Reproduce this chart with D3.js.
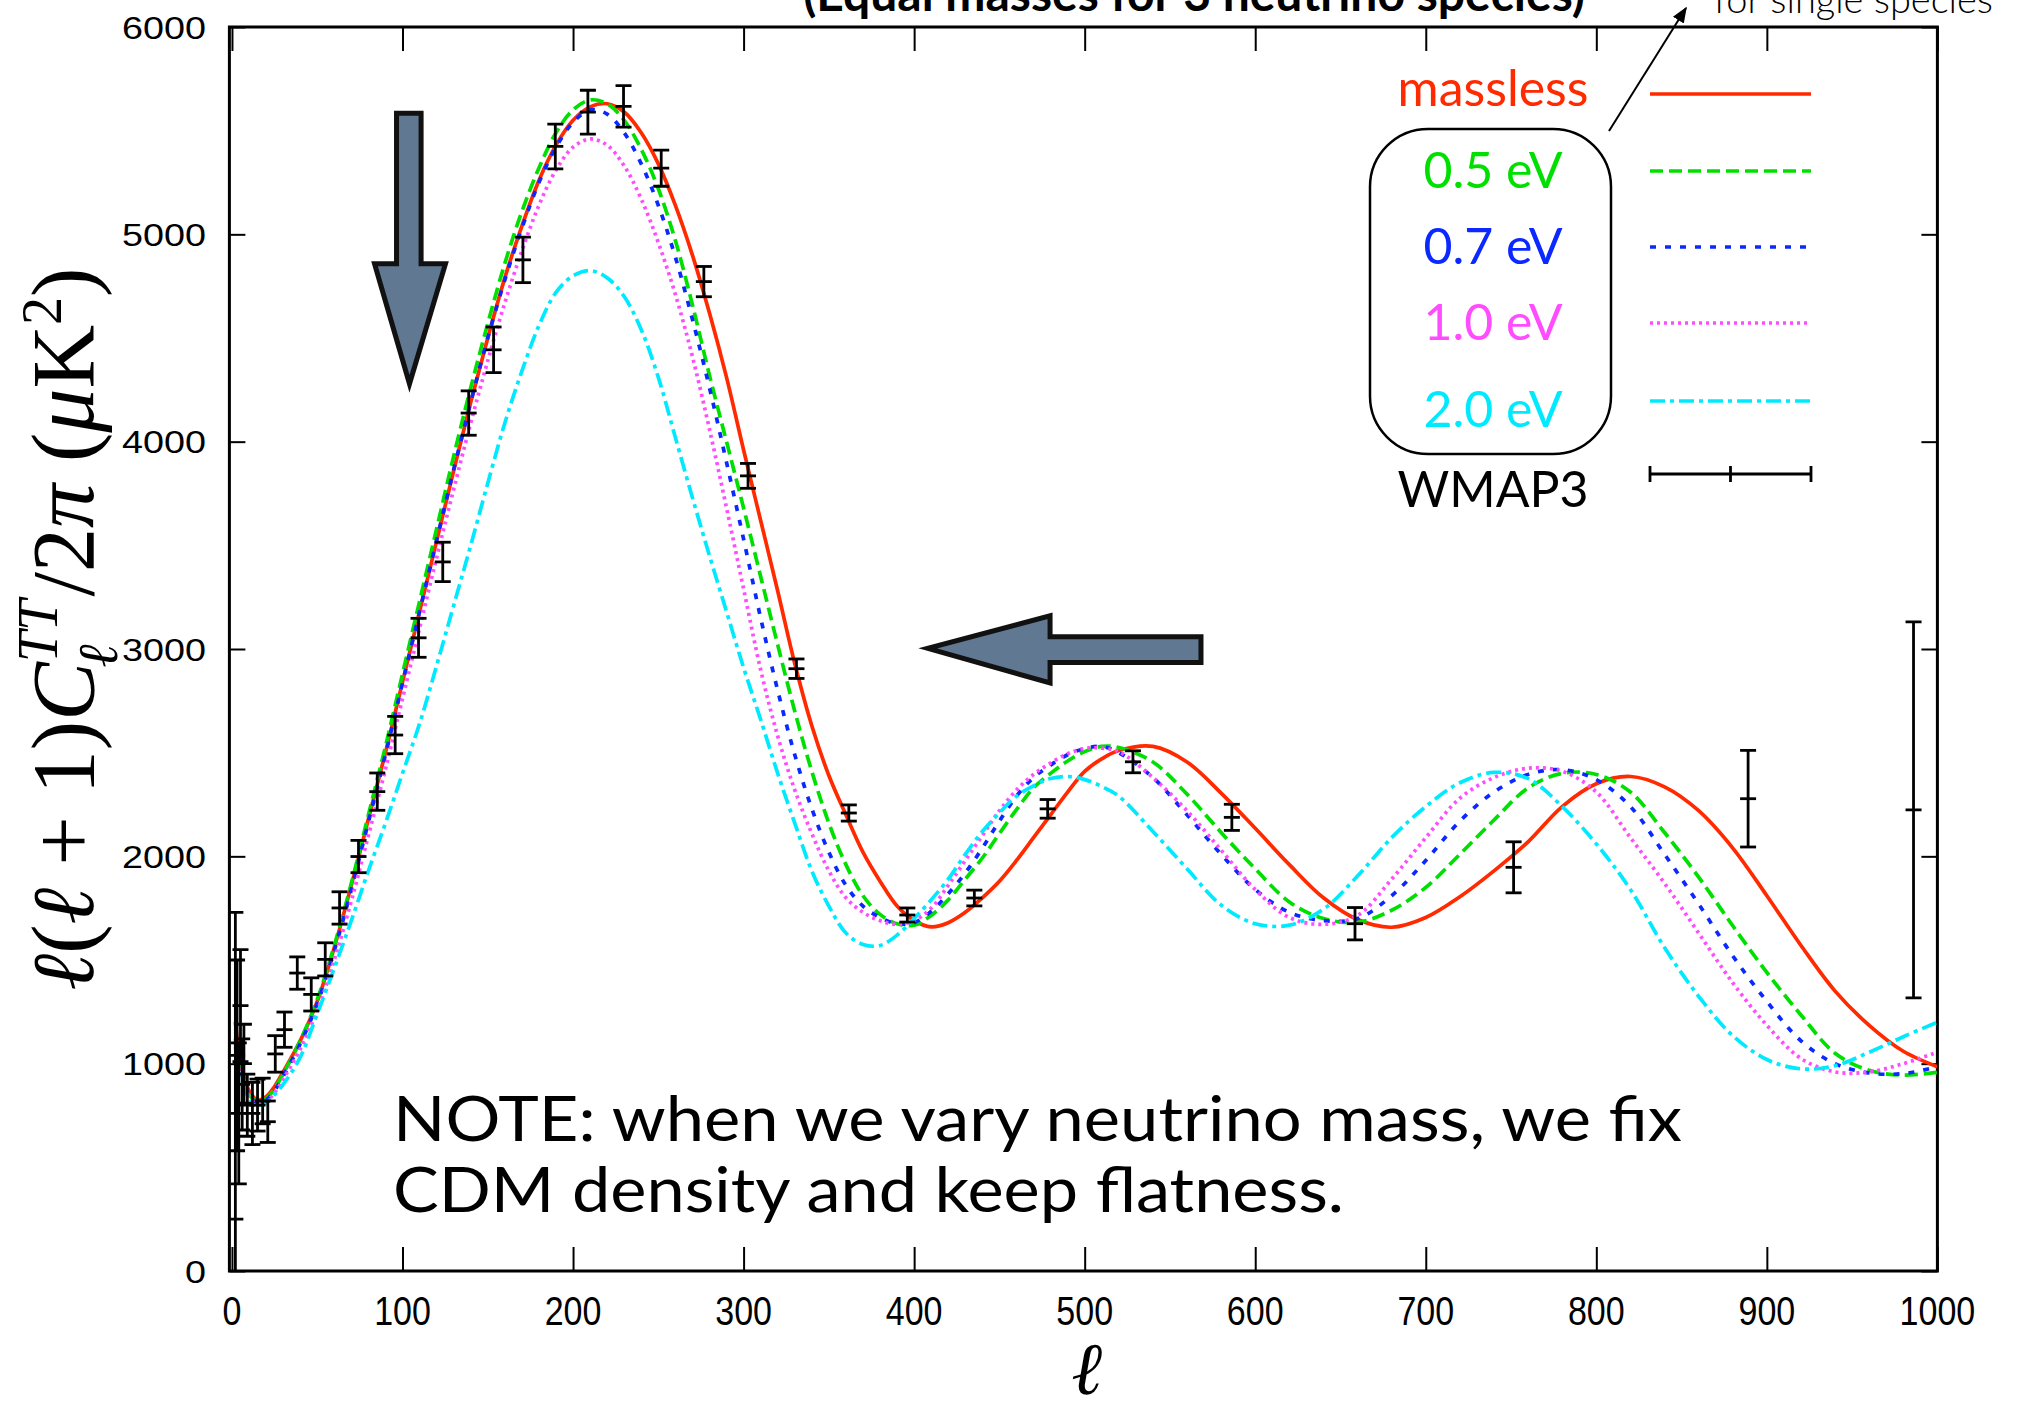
<!DOCTYPE html>
<html>
<head>
<meta charset="utf-8">
<title>neutrino mass TT</title>
<style>
  body{margin:0;background:#fff;}
  svg{display:block;}
</style>
</head>
<body>
<script src="https://cdn.jsdelivr.net/npm/d3@7"></script>
<script>
var width = 2021, height = 1409;

// multipole grid for the model curves
var ell = [2,5,10,15,20,25,30,40,50,60,70,80,90,100,110,120,130,140,150,160,170,180,190,200,
  210,220,230,240,250,260,270,280,290,300,310,320,330,340,350,360,370,380,390,400,410,420,430,440,
  450,460,470,480,490,500,510,520,540,560,580,600,620,640,660,680,700,720,740,760,780,800,820,840,
  860,880,900,920,940,960,980,1000];

var massless = [1200,1010,870,825,840,890,960,1110,1300,1560,1860,2180,2500,2840,3180,3520,3860,4190,4500,4790,
  5040,5260,5430,5550,5615,5630,5590,5490,5340,5140,4900,4620,4310,3960,3620,3280,2930,2630,2390,2200,
  2020,1880,1760,1690,1660,1680,1730,1800,1880,1980,2090,2200,2310,2410,2470,2510,2530,2455,2305,2135,
  1960,1800,1695,1658,1705,1805,1930,2070,2240,2350,2385,2335,2220,2040,1810,1570,1350,1185,1060,985];

var m05 = [1120,990,855,815,830,880,950,1110,1310,1570,1870,2200,2530,2880,3230,3580,3930,4260,4570,4860,
  5110,5320,5490,5600,5648,5630,5550,5410,5220,4970,4660,4320,4000,3680,3350,3020,2700,2410,2160,1960,
  1810,1720,1675,1668,1715,1790,1890,1992,2110,2225,2330,2400,2460,2505,2530,2525,2455,2300,2115,1940,
  1780,1700,1682,1740,1850,2010,2175,2330,2400,2395,2310,2115,1900,1665,1440,1235,1050,968,945,958];

var m07 = [1100,980,850,812,825,870,940,1095,1290,1545,1840,2165,2490,2835,3180,3525,3865,4190,4500,4780,
  5030,5250,5420,5540,5600,5580,5490,5340,5140,4890,4590,4260,3900,3530,3150,2800,2490,2230,2020,1860,
  1760,1705,1675,1680,1735,1820,1920,2040,2170,2290,2380,2440,2490,2520,2530,2500,2380,2200,2010,1840,
  1730,1690,1700,1810,1980,2170,2310,2395,2418,2370,2240,2010,1770,1520,1300,1110,1000,955,952,985];

var m10 = [1080,970,845,808,818,860,925,1070,1255,1500,1785,2100,2420,2760,3100,3440,3770,4090,4390,4670,
  4920,5140,5310,5420,5460,5430,5330,5170,4960,4710,4410,4060,3680,3290,2900,2580,2320,2110,1930,1800,
  1730,1690,1672,1690,1750,1860,1980,2100,2220,2320,2395,2450,2495,2520,2522,2505,2380,2220,2030,1840,
  1705,1672,1715,1890,2090,2280,2380,2425,2410,2310,2090,1870,1630,1390,1185,1025,960,960,1000,1055];

var m20 = [1050,940,835,800,810,850,900,1030,1240,1460,1690,1930,2160,2400,2640,2920,3210,3500,3800,4090,
  4340,4560,4720,4800,4825,4790,4700,4540,4310,4020,3730,3450,3180,2910,2660,2400,2160,1930,1760,1630,
  1575,1570,1620,1700,1790,1890,2010,2120,2210,2290,2340,2375,2385,2370,2337,2290,2120,1940,1765,1675,
  1668,1745,1905,2090,2240,2355,2405,2375,2240,2060,1840,1560,1325,1135,1020,975,990,1055,1130,1200];

// WMAP3 binned points
var wmapL   = [2,3,4,5,6,7,9,12,15,18,21,25.4,30.8,38.3,46.5,54.7,63.1,74.2,85.2,95.7,109.4,123.6,138.8,
  153.4,170.6,189.6,208.7,229.6,251.7,276.7,302.6,331,361.7,396,435.3,478.3,528.3,586.3,658.5,751.5,889,986];
var wmapV   = [250,1040,760,1280,900,1000,800,760,800,820,720,1047,1164,1437,1334,1503,1751,1999,2312,2585,3054,3420,4138,
  4443,4877,5424,5589,5617,5319,4772,3835,2905,2209,1717,1799,2229,2456,2188,1675,1947,2278,2224];
var wmapErr = [1480,460,340,270,220,190,150,150,125,110,100,88,85,78,80,80,78,78,90,90,94,95,107,
  110,110,108,106,100,87,73,60,47,39,34,38,45,53,63,78,123,233,907];

var xTicks = [0,100,200,300,400,500,600,700,800,900,1000];
var yTicks = [0,1000,2000,3000,4000,5000,6000];

var seriesNames  = ["massless","0.5 eV","0.7 eV","1.0 eV","2.0 eV"];
var seriesColors = ["#ff2a00","#00e000","#0a28ff","#ff4cff","#00eaff"];
var seriesDash   = ["none","13,6","6,9","3,4","15,5,4,5"];
var seriesData   = [massless, m05, m07, m10, m20];

// annotation arrows, in data units (l, value)
var downArrow = [[96.5,5584],[110.9,5584],[110.9,4858],[125.2,4858],[104.1,4279],[83.6,4858],[96.5,4858]];
var leftArrow = [[568.2,3059],[479.7,3059],[479.7,3160],[408,3003],[479.7,2836],[479.7,2935],[568.2,2935]];

var svg = d3.select("body").append("svg")
    .attr("width", width)
    .attr("height", height);

var x = d3.scaleLinear().domain([-1.5, 1000]).range([229.4, 1937.4]);
var y = d3.scaleLinear().domain([0, 6000]).range([1271, 27]);

svg.append("defs").append("clipPath").attr("id","plotclip")
  .append("rect").attr("x", x(-1.5)).attr("y", y(6000))
  .attr("width", x(1000) - x(-1.5)).attr("height", y(0) - y(6000));

var sans = "Lato, 'Open Sans', sans-serif";

// title, cut by the top edge like the slide
svg.append("text")
  .attr("x", 1194).attr("y", 11)
  .attr("text-anchor","middle")
  .style("font-family", sans).style("font-weight","bold").style("font-size","48px")
  .text("(Equal masses for 3 neutrino species)");

svg.append("text")
  .attr("x", 1714).attr("y", 13)
  .style("font-family", sans).style("font-weight","300").style("font-size","38px")
  .text("for single species");

// axes, ticks inward on all four sides
var axisG = svg.append("g").attr("class","axes");
axisG.append("g").attr("transform","translate(0," + y(0) + ")")
  .call(d3.axisBottom(x).tickValues(xTicks).tickSize(-24).tickSizeOuter(0).tickFormat(""));
axisG.append("g").attr("transform","translate(0," + y(6000) + ")")
  .call(d3.axisTop(x).tickValues(xTicks).tickSize(-24).tickSizeOuter(0).tickFormat(""));
axisG.append("g").attr("transform","translate(" + x(-1.5) + ",0)")
  .call(d3.axisLeft(y).tickValues(yTicks).tickSize(-16).tickSizeOuter(0).tickFormat(""));
axisG.append("g").attr("transform","translate(" + x(1000) + ",0)")
  .call(d3.axisRight(y).tickValues(yTicks).tickSize(-16).tickSizeOuter(0).tickFormat(""));
axisG.selectAll(".tick line").attr("stroke","#000").attr("stroke-width",2);
axisG.selectAll(".domain").remove();
axisG.append("rect")
  .attr("x", x(-1.5)).attr("y", y(6000))
  .attr("width", x(1000) - x(-1.5)).attr("height", y(0) - y(6000))
  .attr("fill","none").attr("stroke","#000").attr("stroke-width",3);

// tick labels
svg.append("g").selectAll("g").data(xTicks).enter().append("g")
  .attr("transform", function(d){ return "translate(" + x(d) + ",1325)"; })
  .append("text")
  .attr("transform","scale(0.83,1)")
  .attr("text-anchor","middle")
  .style("font-family","'Liberation Sans', Arial, sans-serif").style("font-size","41px")
  .text(function(d){ return d; });

svg.append("g").selectAll("g").data(yTicks).enter().append("g")
  .attr("transform", function(d){ return "translate(206," + y(d) + ")"; })
  .append("text")
  .attr("transform","scale(1.18,1)")
  .attr("text-anchor","end").attr("dy","0.36em")
  .style("font-family","'Liberation Sans', Arial, sans-serif").style("font-size","32px")
  .text(function(d){ return d; });

// axis titles
var serif = "'Liberation Serif', 'DejaVu Serif', serif";
svg.append("text")
  .attr("x", 1087).attr("y", 1394)
  .attr("text-anchor","middle")
  .style("font-family", serif).style("font-style","italic").style("font-size","74px")
  .text("ℓ");

var yt = svg.append("text")
  .attr("transform","translate(93,629) rotate(-90)")
  .attr("text-anchor","middle")
  .style("font-family", serif).style("font-size","88px");
yt.append("tspan").style("font-style","italic").text("ℓ");
yt.append("tspan").text("(");
yt.append("tspan").style("font-style","italic").text("ℓ");
yt.append("tspan").text(" + 1)");
yt.append("tspan").style("font-style","italic").text("C");
yt.append("tspan").style("font-style","italic").style("font-size","56px").attr("dy",-36).text("TT");
yt.append("tspan").style("font-style","italic").style("font-size","56px").attr("dx",-68).attr("dy",60).text("ℓ");
yt.append("tspan").attr("dx",48).attr("dy",-24).text("/2");
yt.append("tspan").style("font-style","italic").text("π");
yt.append("tspan").text(" (");
yt.append("tspan").style("font-style","italic").text("μ");
yt.append("tspan").text("K");
yt.append("tspan").style("font-size","56px").attr("dy",-32).text("2");
yt.append("tspan").attr("dy",32).text(")");

// gray arrows
var arrowLine = d3.line().x(function(d){ return x(d[0]); }).y(function(d){ return y(d[1]); });
[downArrow, leftArrow].forEach(function(a){
  svg.append("path")
    .attr("d", arrowLine(a) + "Z")
    .attr("fill","#617893")
    .attr("stroke","#111").attr("stroke-width",5)
    .attr("stroke-linejoin","miter");
});

// model curves
var plot = svg.append("g").attr("clip-path","url(#plotclip)");
var line = d3.line()
  .x(function(d, i){ return x(ell[i]); })
  .y(function(d){ return y(d); })
  .curve(d3.curveCatmullRom.alpha(0.5));

seriesData.forEach(function(s, k){
  plot.append("path")
    .datum(s)
    .attr("d", line)
    .attr("fill","none")
    .attr("stroke", seriesColors[k])
    .attr("stroke-width", 3.7)
    .attr("stroke-dasharray", seriesDash[k]);
});

// WMAP3 error bars
var cap = 8;
var bars = plot.append("g").selectAll("g").data(wmapL).enter().append("g")
  .attr("stroke","#000").attr("stroke-width",2.8);
bars.append("line")
  .attr("x1", function(d){ return x(d); }).attr("x2", function(d){ return x(d); })
  .attr("y1", function(d, i){ return y(wmapV[i] - wmapErr[i]); })
  .attr("y2", function(d, i){ return y(wmapV[i] + wmapErr[i]); });
[-1, 0, 1].forEach(function(sgn){
  bars.append("line")
    .attr("x1", function(d){ return x(d) - cap; }).attr("x2", function(d){ return x(d) + cap; })
    .attr("y1", function(d, i){ return y(wmapV[i] + sgn * wmapErr[i]); })
    .attr("y2", function(d, i){ return y(wmapV[i] + sgn * wmapErr[i]); });
});

// legend
var legX = 1493, sampleX1 = 1650, sampleX2 = 1811;
var legY = [94, 171, 247, 323, 401];
var legBase = [106, 188, 264, 340, 427];
var legend = svg.append("g");
legend.append("rect")
  .attr("x", 1370).attr("y", 129).attr("width", 241).attr("height", 325)
  .attr("rx", 58).attr("ry", 58)
  .attr("fill","none").attr("stroke","#000").attr("stroke-width",2.5);

seriesNames.forEach(function(n, k){
  legend.append("text")
    .attr("x", legX).attr("y", legBase[k])
    .attr("text-anchor","middle")
    .style("font-family", sans).style("font-size","50px")
    .attr("fill", seriesColors[k])
    .text(n);
  legend.append("line")
    .attr("x1", sampleX1).attr("x2", sampleX2)
    .attr("y1", legY[k]).attr("y2", legY[k])
    .attr("stroke", seriesColors[k]).attr("stroke-width", 3.7)
    .attr("stroke-dasharray", seriesDash[k]);
});
legend.append("text")
  .attr("x", legX).attr("y", 507)
  .attr("text-anchor","middle")
  .style("font-family", sans).style("font-size","50px")
  .text("WMAP3");
var ly = 474;
legend.append("line").attr("x1", sampleX1).attr("x2", sampleX2).attr("y1", ly).attr("y2", ly)
  .attr("stroke","#000").attr("stroke-width",2.8);
[sampleX1, (sampleX1 + sampleX2) / 2, sampleX2].forEach(function(px){
  legend.append("line").attr("x1", px).attr("x2", px).attr("y1", ly - cap).attr("y2", ly + cap)
    .attr("stroke","#000").attr("stroke-width",2.8);
});

// pointer from the box to "for single species"
svg.append("defs").append("marker")
  .attr("id","head").attr("viewBox","0 0 10 10").attr("refX",9).attr("refY",5)
  .attr("markerWidth",8).attr("markerHeight",8).attr("orient","auto")
  .append("path").attr("d","M0,1 L10,5 L0,9 Z").attr("fill","#000");
svg.append("line")
  .attr("x1", 1609).attr("y1", 131).attr("x2", 1686).attr("y2", 8)
  .attr("stroke","#000").attr("stroke-width",2)
  .attr("marker-end","url(#head)");

// note
svg.append("text")
  .attr("x", 393).attr("y", 1141)
  .attr("textLength", 1289).attr("lengthAdjust","spacingAndGlyphs")
  .style("font-family", sans).style("font-size","62px")
  .text("NOTE: when we vary neutrino mass, we fix");
svg.append("text")
  .attr("x", 393).attr("y", 1212)
  .attr("textLength", 951).attr("lengthAdjust","spacingAndGlyphs")
  .style("font-family", sans).style("font-size","62px")
  .text("CDM density and keep flatness.");
</script>
</body>
</html>
